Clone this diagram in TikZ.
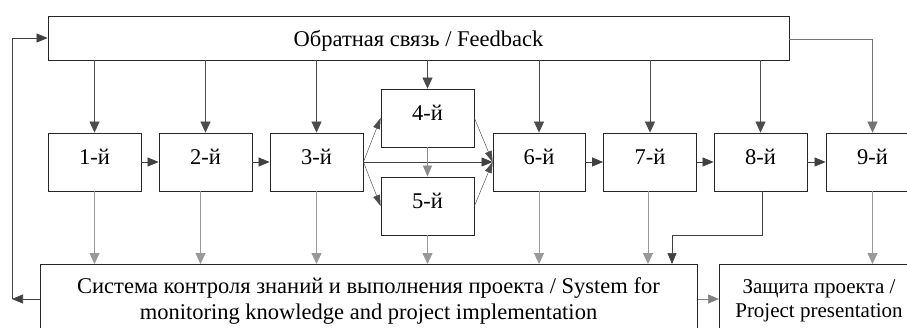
\documentclass[tikz,border=0pt]{standalone}
\usepackage{fontspec}
\setmainfont{Liberation Serif}
\usetikzlibrary{arrows.meta}
\tikzset{
  box/.style={draw=black!85, line width=0.8pt, rectangle, inner sep=0pt, font=\fontsize{22.5}{26}\selectfont},
  rowbox/.style={box, minimum width=93pt, minimum height=58pt, text height=15pt, text depth=11pt},
  fbarr/.style={draw=black!70, line width=0.7pt, -{Triangle[length=11pt,width=10pt]}},
  dnarr/.style={draw=black!40, line width=0.8pt, -{Triangle[length=11pt,width=10pt]}},
  hzarr/.style={draw=black!75, line width=0.7pt, -{Triangle[length=11pt,width=9pt]}},
  dgarr/.style={draw=black!70, line width=0.45pt, -{Triangle[length=11pt,width=7pt]}},
  lbl/.style={font=\fontsize{22.5}{26}\selectfont, align=center, inner sep=0pt}
}
\begin{document}
\begin{tikzpicture}[x=1pt,y=-1pt]
\useasboundingbox (0,0) rectangle (907,327);
\clip (0,0) rectangle (907,327);
% feedback
\node[box, minimum width=741pt, minimum height=44pt] (fb) at (418.5,38) {};
\node[lbl, anchor=base] (tfb) at (418.5,46.5) {Обратная связь / Feedback};
% row
\node[rowbox] (b1) at (94.5,162) {1-й};
\node[rowbox] (b2) at (205.5,162) {2-й};
\node[rowbox] (b3) at (316.5,162) {3-й};
\node[rowbox] (b4) at (427.5,118) {4-й};
\node[rowbox] (b5) at (427.5,206) {5-й};
\node[rowbox, minimum width=92pt] (b6) at (539,162) {6-й};
\node[rowbox] (b7) at (650,162) {7-й};
\node[rowbox] (b8) at (760.5,162) {8-й};
\node[rowbox] (b9) at (872.5,162) {9-й};
% bottom boxes
\node[box, minimum width=657pt, minimum height=80pt, anchor=north west] (sys) at (40,264) {};
\node[lbl] (tsys) at (368.5,301) {Система контроля знаний и выполнения проекта / System for\\monitoring knowledge and project implementation};
\node[box, minimum width=206pt, minimum height=80pt, anchor=north west] (def) at (719,264) {};
\node[lbl, font=\fontsize{21}{24}\selectfont] (tdef) at (819,300.5) {Защита проекта /\\Project presentation};
% feedback arrows down
\draw[fbarr] (fb.south -| b1) -- (b1.north);
\draw[fbarr] (fb.south -| b2) -- (b2.north);
\draw[fbarr] (fb.south -| b3) -- (b3.north);
\draw[fbarr] (fb.south -| b4) -- (b4.north);
\draw[fbarr] (fb.south -| b6) -- (b6.north);
\draw[fbarr] (fb.south -| b7) -- (b7.north);
\draw[fbarr] (fb.south -| b8) -- (b8.north);
\draw[fbarr, draw=black!55] (fb.east |- 0,39) -| (b9.north);
% horizontal chain
\draw[hzarr] (b1.east) -- (b2.west);
\draw[hzarr] (b2.east) -- (b3.west);
\draw[hzarr] (b6.east) -- (b7.west);
\draw[hzarr] (b7.east) -- (b8.west);
\draw[hzarr] (b8.east) -- (b9.west);
% branch
\draw[dgarr] (b3.east) -- (b4.west);
\draw[dgarr] (b3.east) -- (b5.west);
\draw[hzarr] (b3.east) -- (b6.west);
\draw[dgarr] (b4.east) -- (b6.west);
\draw[dgarr] (b5.east) -- (b6.west);
\draw[hzarr, draw=black!45] (b4.south) -- (b5.north);
% down to system
\draw[dnarr] (b1.south) -- (b1.south |- sys.north);
\draw[dnarr] ([xshift=-5pt]b2.south) -- ([xshift=-5pt]b2.south |- sys.north);
\draw[dnarr] (b3.south) -- (b3.south |- sys.north);
\draw[dnarr] (b5.south) -- (b5.south |- sys.north);
\draw[dnarr] (b6.south) -- (b6.south |- sys.north);
\draw[dnarr] ([xshift=-2pt]b7.south) -- ([xshift=-2pt]b7.south |- sys.north);
\coordinate (k1) at (762,235);
\coordinate (k2) at (672,235);
\draw[hzarr] (b8.south -| k1) -- (k1) -- (k2) -- (k2 |- sys.north);
\draw[dnarr] (b9.south) -- (b9.south |- def.north);
% system to defense
\draw[hzarr, draw=black!50] (sys.east |- 0,299) -- (def.west |- 0,299);
% loop back
\coordinate (c1) at (12,299);
\coordinate (c2) at (12,38);
\draw[hzarr] (sys.west |- c1) -- (c1);
\draw[hzarr] (c1) -- (c2) -- (fb.west);
\end{tikzpicture}
\end{document}
